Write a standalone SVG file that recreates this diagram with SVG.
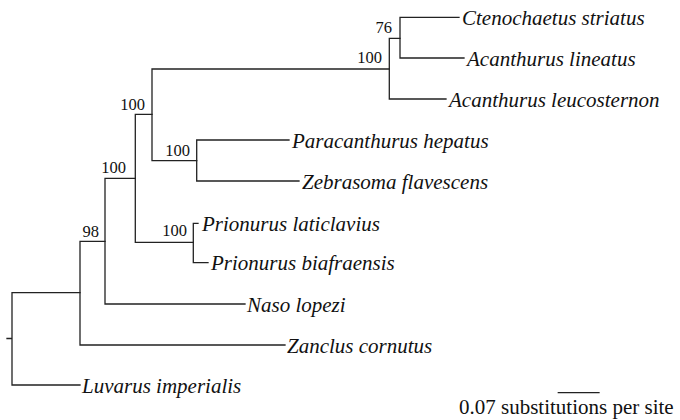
<svg xmlns="http://www.w3.org/2000/svg" width="680" height="420" viewBox="0 0 680 420">
<style>
.br{fill:none;stroke:#222;stroke-width:1.3;stroke-linecap:square}
.tx{font-family:"Liberation Serif","Times New Roman",serif;font-style:italic;font-size:21px;fill:#111}
.bs{font-family:"Liberation Serif","Times New Roman",serif;font-size:16.5px;fill:#111;text-anchor:end}
.sc{font-family:"Liberation Serif","Times New Roman",serif;font-size:21px;fill:#111}
</style>
<rect width="680" height="420" fill="#fff"/>
<g id="connectors">
<path class="br" d="M7,338.5H12M12,292.7V385M12,385H80M12,292.7H80"/>
<path class="br" d="M80,241.3V345M80,345H285M80,241.3H105"/>
<path class="br" d="M105,178.3V304M105,304H245M105,178.3H135.3"/>
<path class="br" d="M135.3,114.3V242.3M135.3,114.3H152M135.3,242.3H193.3"/>
<path class="br" d="M193.3,223.3V262.7M193.3,223.3H198M193.3,262.7H208"/>
<path class="br" d="M152,69V160.7M152,69H389.3M152,160.7H196.7"/>
<path class="br" d="M196.7,140V181M196.7,140H289M196.7,181H299"/>
<path class="br" d="M389.3,38.3V99M389.3,99H446M389.3,38.3H400"/>
<path class="br" d="M400,17.3V58M400,17.3H459M400,58H464"/>
</g>
<g id="support">
<text class="bs" x="392" y="32.7">76</text>
<text class="bs" x="382" y="62.7">100</text>
<text class="bs" x="145" y="110">100</text>
<text class="bs" x="190" y="156">100</text>
<text class="bs" x="126" y="173">100</text>
<text class="bs" x="99" y="236.7">98</text>
<text class="bs" x="187" y="236">100</text>
</g>
<g id="ctenochaetus-striatus"><text class="tx" x="462" y="25">Ctenochaetus striatus</text></g>
<g id="acanthurus-lineatus"><text class="tx" x="467" y="65.5">Acanthurus lineatus</text></g>
<g id="acanthurus-leucosternon"><text class="tx" x="449" y="106.5">Acanthurus leucosternon</text></g>
<g id="paracanthurus-hepatus"><text class="tx" x="292" y="147.5">Paracanthurus hepatus</text></g>
<g id="zebrasoma-flavescens"><text class="tx" x="302" y="188.5">Zebrasoma flavescens</text></g>
<g id="prionurus-laticlavius"><text class="tx" x="202" y="231">Prionurus laticlavius</text></g>
<g id="prionurus-biafraensis"><text class="tx" x="211" y="270">Prionurus biafraensis</text></g>
<g id="naso-lopezi"><text class="tx" x="247" y="311.5">Naso lopezi</text></g>
<g id="zanclus-cornutus"><text class="tx" x="287" y="352.5">Zanclus cornutus</text></g>
<g id="luvarus-imperialis"><text class="tx" x="82" y="392.5">Luvarus imperialis</text></g>
<g id="scale-bar">
<path class="br" d="M558.3,392.7H599"/>
<text class="sc" x="459" y="414">0.07 substitutions per site</text>
</g>
</svg>
